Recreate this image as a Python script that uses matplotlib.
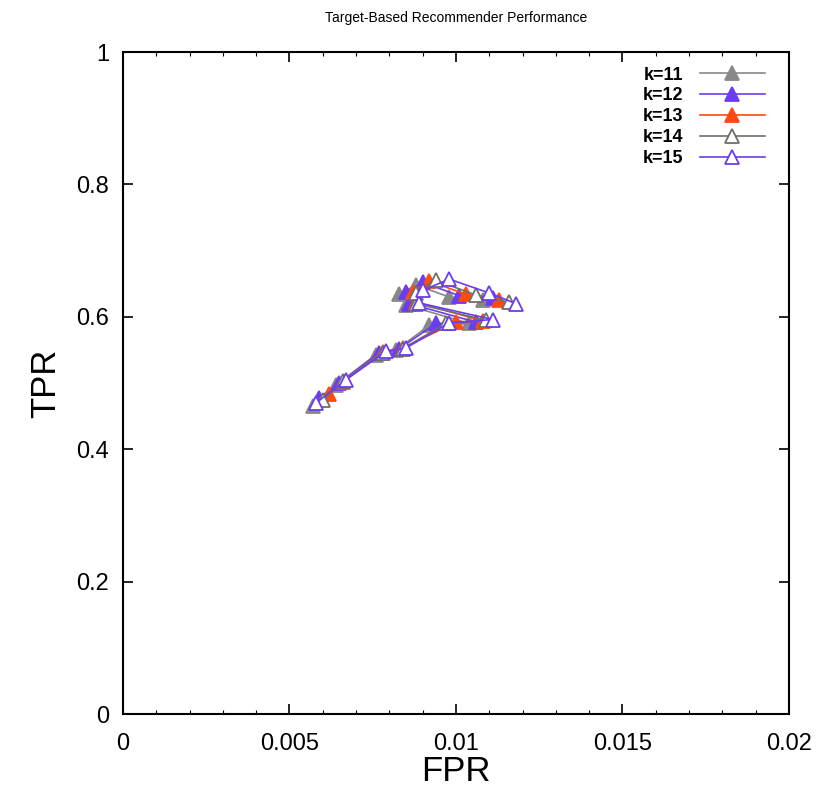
import numpy as np
import matplotlib.pyplot as plt
from matplotlib.ticker import MultipleLocator

plt.rcParams['font.family'] = ['Liberation Sans', 'DejaVu Sans']

# FPR / TPR для каждого k
fpr_k11 = [0.0057, 0.0064, 0.0076, 0.0082, 0.0092, 0.0104, 0.0085, 0.0083, 0.0088, 0.0098, 0.0108]
tpr_k11 = [0.465, 0.497, 0.543, 0.550, 0.587, 0.590, 0.618, 0.635, 0.648, 0.630, 0.626]

fpr_k12 = [0.0059, 0.0065, 0.0077, 0.0083, 0.0094, 0.0106, 0.0086, 0.0085, 0.0090, 0.0101, 0.0111]
tpr_k12 = [0.478, 0.500, 0.546, 0.552, 0.590, 0.592, 0.620, 0.637, 0.652, 0.632, 0.628]

fpr_k13 = [0.0062, 0.0066, 0.0078, 0.0084, 0.0100, 0.0108, 0.0088, 0.0087, 0.0092, 0.0103, 0.0113]
tpr_k13 = [0.484, 0.502, 0.547, 0.553, 0.592, 0.594, 0.622, 0.638, 0.654, 0.634, 0.626]

fpr_k14 = [0.0060, 0.0066, 0.0078, 0.0084, 0.0097, 0.0109, 0.0088, 0.0088, 0.0094, 0.0106, 0.0116]
tpr_k14 = [0.474, 0.503, 0.546, 0.552, 0.590, 0.595, 0.620, 0.636, 0.655, 0.633, 0.622]

fpr_k15 = [0.0058, 0.0067, 0.0079, 0.0085, 0.0098, 0.0111, 0.0089, 0.0090, 0.0098, 0.0110, 0.0118]
tpr_k15 = [0.470, 0.505, 0.548, 0.553, 0.591, 0.596, 0.621, 0.640, 0.657, 0.636, 0.620]

labels = ['k=11', 'k=12', 'k=13', 'k=14', 'k=15']
colors = ['#888888', '#6a3df0', '#ff4a10', '#707068', '#6a3df0']
filled = [True, True, True, False, False]

series = [(fpr_k11, tpr_k11), (fpr_k12, tpr_k12), (fpr_k13, tpr_k13),
          (fpr_k14, tpr_k14), (fpr_k15, tpr_k15)]

fig = plt.figure(figsize=(8.27, 7.89), dpi=100)
ax = fig.add_axes([0.1487, 0.095, 0.8053, 0.839])

for (x, y), lab, c, f in zip(series, labels, colors, filled):
    ax.plot(x, y, color=c, lw=1.2, marker='^', markersize=10,
            markerfacecolor=c if f else 'white', markeredgecolor=c,
            markeredgewidth=1.3, label=lab)

ax.set_xlim(0, 0.02)
ax.set_ylim(0, 1)
ax.set_xticks([0, 0.005, 0.01, 0.015, 0.02])
ax.set_xticklabels(['0', '0.005', '0.01', '0.015', '0.02'])
ax.set_yticks([0, 0.2, 0.4, 0.6, 0.8, 1.0])
ax.set_yticklabels(['0', '0.2', '0.4', '0.6', '0.8', '1'])
ax.xaxis.set_minor_locator(MultipleLocator(0.001))
ax.tick_params(which='major', direction='in', top=True, right=True,
               length=7, width=1.2, labelsize=17)
ax.tick_params(axis='x', which='major', pad=14)
ax.tick_params(axis='y', which='major', pad=10)
ax.tick_params(which='minor', direction='in', top=True, right=False,
               length=3, width=0.8)
for s in ax.spines.values():
    s.set_linewidth(1.5)

ax.set_xlabel('FPR', fontsize=25, labelpad=0)
ax.set_ylabel('TPR', fontsize=25, labelpad=10)
ax.set_title('Target-Based Recommender Performance', fontsize=10, pad=22)

leg = ax.legend(loc='upper right', frameon=False, markerfirst=False,
                fontsize=13, handlelength=3.6, labelspacing=0.22,
                borderaxespad=0.4, handletextpad=0.9,
                bbox_to_anchor=(0.985, 1.0))
for t in leg.get_texts():
    t.set_fontweight('bold')

fig.savefig('out.png', dpi=100)
